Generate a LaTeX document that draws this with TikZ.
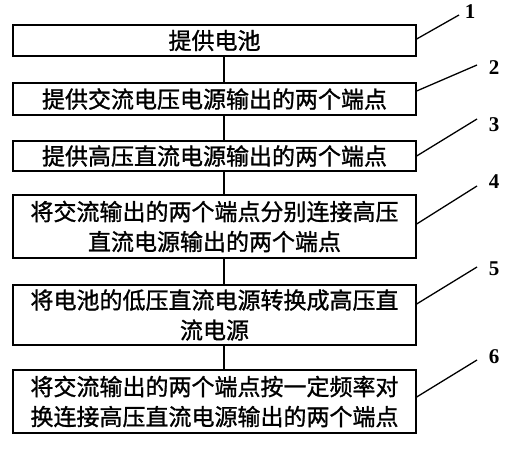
\documentclass[tikz,border=0pt]{standalone}
\usepackage{fontspec}
\setmainfont{Liberation Serif}
\newfontfamily\cjk[BoldFont=*,BoldFeatures={FakeBold=1.2}]{Noto Sans CJK SC}
\begin{document}
\begin{tikzpicture}[x=1pt,y=-1pt,
  box/.style={draw, line width=1.3pt, minimum width=403pt, text width=395pt,
    align=center, inner sep=0pt, font=\cjk\bfseries\fontsize{23}{30}\selectfont},
  num/.style={font=\bfseries\fontsize{21}{21}\selectfont, inner sep=0pt},
  link/.style={line width=1.3pt}]
\useasboundingbox (0,0) rectangle (519,450);
\node[box, minimum height=31pt] (b1) at (214.5,40.5) {提供电池};
\node[box, minimum height=32pt] (b2) at (214.5,99) {提供交流电压电源输出的两个端点};
\node[box, minimum height=30pt] (b3) at (214.5,156) {提供高压直流电源输出的两个端点};
\node[box, minimum height=63pt] (b4) at (214.5,226.5) {将交流输出的两个端点分别连接高压\\直流电源输出的两个端点};
\node[box, minimum height=60pt] (b5) at (214.5,315) {将电池的低压直流电源转换成高压直\\流电源};
\node[box, minimum height=63pt] (b6) at (214.5,401.5) {将交流输出的两个端点按一定频率对\\换连接高压直流电源输出的两个端点};
\foreach \a/\b in {b1/b2,b2/b3,b3/b4,b4/b5,b5/b6}
  \draw[link] ([xshift=9.5pt]\a.south) -- ([xshift=9.5pt]\b.north);
\coordinate (e1) at (459,15);
\coordinate (e2) at (477,65);
\coordinate (e3) at (477,119);
\coordinate (e4) at (477,186);
\coordinate (e5) at (477,267);
\coordinate (e6) at (477,360);
\node[num] (n1) at (470,12) {1};
\node[num] (n2) at (494,68) {2};
\node[num] (n3) at (494,125) {3};
\node[num] (n4) at (494,182) {4};
\node[num] (n5) at (494,269) {5};
\node[num] (n6) at (494,357) {6};
\draw[link] ([yshift=1.5pt]b1.east) -- (e1);
\draw[link] ([yshift=8pt]b2.east) -- (e2);
\draw[link] (b3.east) -- (e3);
\draw[link] ([yshift=2.5pt]b4.east) -- (e4);
\draw[link] ([yshift=11pt]b5.east) -- (e5);
\draw[link] ([yshift=4.5pt]b6.east) -- (e6);
\end{tikzpicture}
\end{document}
